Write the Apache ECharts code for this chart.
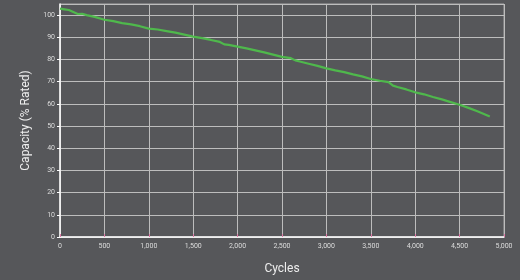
<!DOCTYPE html>
<html>
<head>
<meta charset="utf-8">
<script src="https://cdn.jsdelivr.net/npm/echarts@6/dist/echarts.min.js"></script>
<style>
  html, body { margin: 0; padding: 0; background: #56575a; }
  #chart { width: 520px; height: 280px; }
</style>
</head>
<body>
<div id="chart"></div>
<script>
const cycles = [0, 50, 100, 150, 200, 250, 300, 400, 500, 600, 700, 800, 900, 1000,
  1100, 1200, 1300, 1400, 1500, 1600, 1700, 1800, 1850, 1900, 2000, 2100, 2200, 2300,
  2400, 2500, 2600, 2650, 2700, 2800, 2900, 3000, 3100, 3200, 3300, 3400, 3500, 3600,
  3700, 3750, 3800, 3900, 4000, 4100, 4200, 4300, 4400, 4500, 4600, 4700, 4800, 4840];
const capacity = [102.9, 102.6, 102.3, 101.4, 100.5, 100.6, 100.0, 99.1, 97.9, 97.3, 96.4, 95.8, 95.0, 93.9,
  93.5, 92.8, 92.1, 91.2, 90.3, 89.6, 88.8, 87.9, 86.8, 86.6, 85.8, 85.0, 84.1, 83.2,
  82.2, 81.2, 80.6, 79.6, 79.1, 78.1, 77.1, 76.0, 75.1, 74.3, 73.3, 72.4, 71.2, 70.4,
  69.8, 68.2, 67.6, 66.5, 65.2, 64.3, 63.1, 62.0, 60.8, 59.6, 58.2, 56.7, 55.0, 54.3];

const points = cycles.map(function (c, i) {
  return [c, capacity[i]];
});

const chart = echarts.init(document.getElementById('chart'));

chart.setOption({
  backgroundColor: '#56575a',
  animation: false,
  grid: {
    left: 60,
    right: 16,
    top: 4,
    bottom: 38,
    show: true,
    borderColor: '#a8a8a8',
    borderWidth: 1
  },
  xAxis: {
    type: 'value',
    min: 0,
    max: 5000,
    interval: 500,
    name: 'Cycles',
    nameLocation: 'middle',
    nameGap: 26,
    nameTextStyle: { color: '#eeeeee', fontSize: 12, fontFamily: 'Roboto' },
    axisLine: { show: true, lineStyle: { color: '#ffffff', width: 1.5 } },
    axisTick: { show: true, inside: true, length: 3, lineStyle: { color: '#e07aa8' } },
    axisLabel: {
      color: '#dddddd',
      fontSize: 7,
      fontFamily: 'Roboto',
      margin: 6,
      formatter: function (v) { return v.toLocaleString('en-US'); }
    },
    splitLine: { show: true, lineStyle: { color: '#bdbdbd', width: 1 } }
  },
  yAxis: {
    type: 'value',
    min: 0,
    max: 105,
    interval: 10,
    name: 'Capacity (% Rated)',
    nameLocation: 'middle',
    nameGap: 26,
    nameTextStyle: { color: '#eeeeee', fontSize: 12, fontFamily: 'Roboto' },
    axisLine: { show: true, lineStyle: { color: '#ffffff', width: 1.5 } },
    axisTick: { show: true, length: 3, lineStyle: { color: '#ffffff' } },
    axisLabel: {
      color: '#dddddd',
      fontSize: 7,
      fontFamily: 'Roboto',
      margin: 5,
      showMaxLabel: false
    },
    splitLine: { show: true, lineStyle: { color: '#bdbdbd', width: 1 } }
  },
  series: [{
    type: 'line',
    data: points,
    showSymbol: false,
    lineStyle: { color: '#4fb84c', width: 2.2 }
  }]
});
</script>
</body>
</html>
